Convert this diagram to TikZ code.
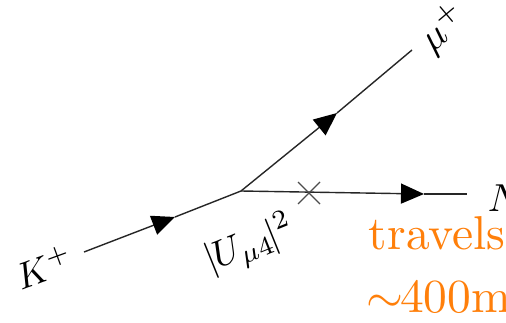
\documentclass[tikz,border=0pt]{standalone}
\usepackage{amsmath,amssymb}
\usepackage{xcolor}
\usetikzlibrary{arrows.meta,positioning,calc}
\definecolor{travelorange}{RGB}{255,127,10}

\begin{document}
\begin{tikzpicture}[
    x=1pt, y=1pt,
    lbl/.style={inner sep=0pt, scale=3.9},
    note/.style={inner sep=0pt, anchor=base west, scale=4.75, text=travelorange},
    leg/.style={line width=1.4pt, black!85},
    arr/.style={-{Triangle[length=23pt, width=20pt, color=black]}, line width=1.4pt, black!85}
  ]
  \useasboundingbox (0,0) rectangle (506,322);

  \coordinate (vtx) at (241,131);
  \coordinate (kend) at (84,70);
  \coordinate (ktip) at (175,105);
  \coordinate (muend) at (412,272);
  \coordinate (mutip) at (337,209);
  \coordinate (nend) at (467,128);
  \coordinate (ntip) at (424,128);
  \coordinate (xc) at (309,129);

  \node[lbl, rotate=20, scale=0.95] (kplus) at (44,55) {$K^+$};
  \node[lbl, rotate=40] (muplus) at (444,293) {$\mu^+$};
  \node[lbl, anchor=west] (nu) at (487,124) {$N$};
  \node[lbl, rotate=22, scale=0.97] (coupling) at (250,77) {$|\kern-0.5pt U_{\mu 4}\kern-1pt|^2$};
  \node[note] (trav) at (368,73) {travels};
  \node[note] (dist) at (366,10) {$\sim$\kern-0.8pt 400m};

  \draw[arr] (kend) -- (ktip);
  \draw[leg] (ktip) -- (vtx);
  \draw[arr] (vtx) -- (mutip);
  \draw[leg] (mutip) -- (muend);
  \draw[arr] (vtx) -- (ntip);
  \draw[leg] (ntip) -- (nend);
  \draw[line width=1.1pt, black!70] ($(xc)+(-11,-11)$) -- ($(xc)+(11,11)$);
  \draw[line width=1.1pt, black!70] ($(xc)+(-11,11)$) -- ($(xc)+(11,-11)$);
\end{tikzpicture}
\end{document}
